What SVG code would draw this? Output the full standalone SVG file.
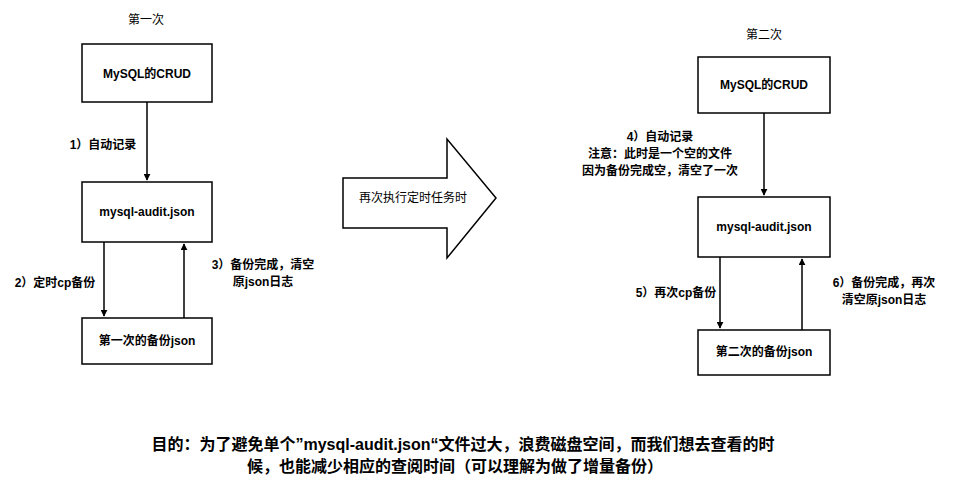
<svg xmlns="http://www.w3.org/2000/svg" width="970" height="491" viewBox="0 0 970 491">
<style>
.b{fill:#fff;stroke:#000;stroke-width:1.5}
.t{font-family:"Liberation Sans","Noto Sans CJK SC",sans-serif;font-size:12px;fill:#000;text-anchor:middle;dominant-baseline:central}
.bt{font-weight:bold}
.c{stroke:#000;stroke-width:1.5;fill:none;marker-end:url(#a)}
</style>
<defs><marker id="a" viewBox="0 0 10 10" refX="9" refY="5" markerWidth="7" markerHeight="7" orient="auto" markerUnits="userSpaceOnUse"><path d="M0,0L10,5L0,10z" fill="#000"/></marker></defs>
<rect width="970" height="491" fill="#fff"/>
<text class="t" x="146" y="20">第一次</text>
<text class="t" x="764" y="35">第二次</text>
<g id="l1"><rect class="b" x="82" y="44" width="130" height="58"/><text class="t bt" x="147" y="74">MySQL的CRUD</text></g>
<g id="l2"><rect class="b" x="82" y="182" width="130" height="60"/><text class="t bt" x="147" y="212">mysql-audit.json</text></g>
<g id="l3"><rect class="b" x="82" y="318" width="130" height="46"/><text class="t bt" x="147" y="341">第一次的备份json</text></g>
<g id="big"><polygon class="b" points="343,178 447,178 447,139 496,198 447,258 447,228 343,228"/><text class="t" x="413" y="198">再次执行定时任务时</text></g>
<g id="r1"><rect class="b" x="698" y="57" width="132" height="56"/><text class="t bt" x="764" y="85">MySQL的CRUD</text></g>
<g id="r2"><rect class="b" x="698" y="197" width="132" height="60"/><text class="t bt" x="764" y="227">mysql-audit.json</text></g>
<g id="r3"><rect class="b" x="698" y="330" width="132" height="45"/><text class="t bt" x="764" y="352">第二次的备份json</text></g>
<g id="connectors">
<path class="c" d="M147,102V180"/>
<path class="c" d="M104,242V316"/>
<path class="c" d="M184,318V244"/>
<path class="c" d="M764,113V195"/>
<path class="c" d="M720,257V328"/>
<path class="c" d="M802,330V259"/>
</g>
<g class="t bt">
<text x="103" y="145">1）自动记录</text>
<text x="55" y="283">2）定时cp备份</text>
<text x="263" y="265">3）备份完成，清空</text>
<text x="263" y="282">原json日志</text>
<text x="660" y="137">4）自动记录</text>
<text x="660" y="154">注意：此时是一个空的文件</text>
<text x="660" y="171">因为备份完成空，清空了一次</text>
<text x="676" y="293">5）再次cp备份</text>
<text x="884" y="283">6）备份完成，再次</text>
<text x="884" y="300">清空原json日志</text>
</g>
<g class="t bt" style="font-size:16px">
<text x="463" y="444">目的：为了避免单个”mysql-audit.json“文件过大，浪费磁盘空间，而我们想去查看的时</text>
<text x="455" y="466">候，也能减少相应的查阅时间（可以理解为做了增量备份）</text>
</g>
</svg>
